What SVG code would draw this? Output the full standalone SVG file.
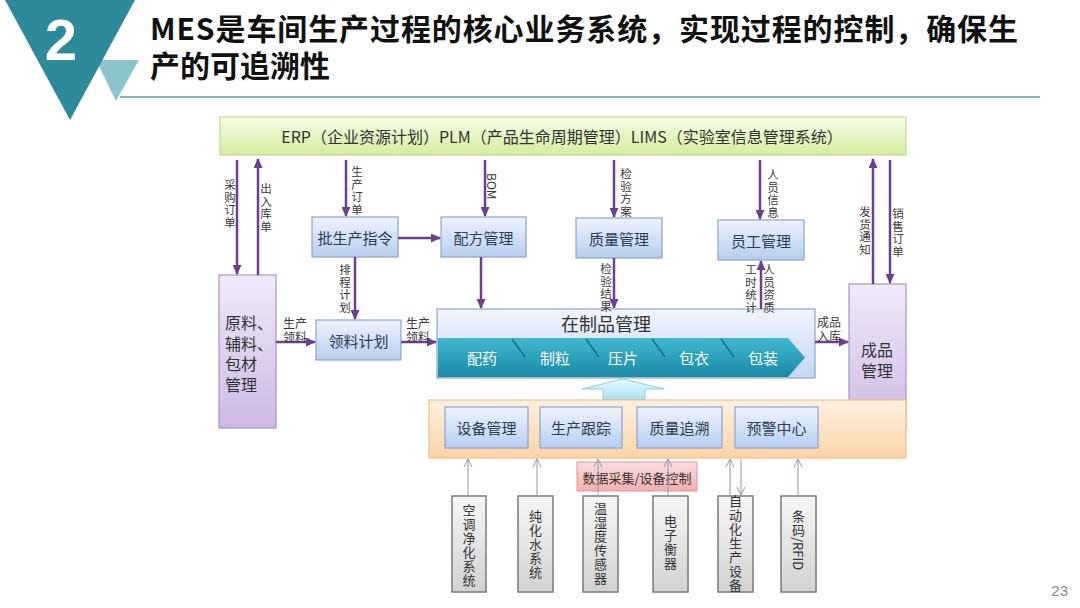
<svg xmlns="http://www.w3.org/2000/svg" width="1080" height="608" viewBox="0 0 1080 608">
<style>
text{font-family:"Noto Sans CJK SC","Noto Sans",sans-serif;fill:#333}
.title{font-size:30px;font-weight:700;fill:#111}
.bx{font-size:15px;fill:#2f3b55;text-anchor:middle;dominant-baseline:central}
.lb{font-size:12px;fill:#3a3a3a;dominant-baseline:central}
.v{font-size:11.5px;fill:#3a3a3a;text-anchor:middle;dominant-baseline:central}
.vg{font-size:13px;fill:#333;text-anchor:middle;dominant-baseline:central}
.big{font-size:16px;fill:#333;dominant-baseline:central}
.pl{stroke:#6e3f8e;stroke-width:2.5;fill:none;marker-end:url(#ah)}
.gl{stroke:#8c9bb2;stroke-width:1;fill:none;marker-end:url(#oh)}
.blue{fill:url(#gBlue);stroke:#8aa4d4;stroke-width:1.2}
.gray{fill:url(#gGray);stroke:#7a7a7a;stroke-width:1.5}
.proc{font-size:15px;fill:#ffffff;text-anchor:middle;dominant-baseline:central}
.sep{stroke:#156f86;stroke-width:1.5}
</style>
<defs>
<linearGradient id="gGreen" x1="0" y1="0" x2="0" y2="1"><stop offset="0" stop-color="#f6fde6"/><stop offset="1" stop-color="#d3eda0"/></linearGradient>
<linearGradient id="gBlue" x1="0" y1="0" x2="0" y2="1"><stop offset="0" stop-color="#eef4fd"/><stop offset="1" stop-color="#b7cdf0"/></linearGradient>
<linearGradient id="gWip" x1="0" y1="0" x2="0" y2="1"><stop offset="0" stop-color="#f0f5fd"/><stop offset="1" stop-color="#c4d6f2"/></linearGradient>
<linearGradient id="gPurple" x1="0" y1="0" x2="0" y2="1"><stop offset="0" stop-color="#f1eaf8"/><stop offset="1" stop-color="#cdb8e4"/></linearGradient>
<linearGradient id="gTeal" x1="0" y1="0" x2="0" y2="1"><stop offset="0" stop-color="#40b8d0"/><stop offset="1" stop-color="#1a8aa6"/></linearGradient>
<linearGradient id="gOrange" x1="0" y1="0" x2="0" y2="1"><stop offset="0" stop-color="#fdf0e0"/><stop offset="1" stop-color="#fbd4a6"/></linearGradient>
<linearGradient id="gPink" x1="0" y1="0" x2="0" y2="1"><stop offset="0" stop-color="#fbdada"/><stop offset="1" stop-color="#f4a6a6"/></linearGradient>
<linearGradient id="gCyan" x1="0" y1="0" x2="0" y2="1"><stop offset="0" stop-color="#eafbfd"/><stop offset="1" stop-color="#a6e0ee"/></linearGradient>
<linearGradient id="gGray" x1="0" y1="0" x2="0" y2="1"><stop offset="0" stop-color="#f6f6f6"/><stop offset="1" stop-color="#d2d2d2"/></linearGradient>
<marker id="ah" markerUnits="userSpaceOnUse" markerWidth="10" markerHeight="9" refX="9" refY="4.5" orient="auto"><path d="M0,0 L10,4.5 L0,9 z" fill="#6e3f8e"/></marker>
<marker id="oh" markerUnits="userSpaceOnUse" markerWidth="10" markerHeight="10" refX="9" refY="5" orient="auto"><path d="M1,1 L9,5 L1,9" fill="none" stroke="#8c9bb2" stroke-width="1"/></marker>
</defs>
<rect width="1080" height="608" fill="#ffffff"/>

<g id="header">
<polygon points="96,60 139,60 116,101" fill="#8ec4cd"/>
<polygon points="5,0 135,0 70,120" fill="#2d8a9b"/>
<text x="61" y="60" text-anchor="middle" style="font-family:'Liberation Sans',Arial,sans-serif;font-size:58px;font-weight:700;fill:#ffffff">2</text>
<text class="title" x="150" y="40" textLength="868" lengthAdjust="spacing">MES是车间生产过程的核心业务系统，实现过程的控制，确保生</text>
<text class="title" x="150" y="77">产的可追溯性</text>
<line x1="120" y1="97" x2="1040" y2="97" stroke="#5a98a4" stroke-width="1.5"/>
</g>

<g id="erp">
<rect x="220" y="117" width="686" height="38" fill="url(#gGreen)" stroke="#b4d48a" stroke-width="1"/>
<text x="562" y="136" text-anchor="middle" dominant-baseline="central" style="font-size:16px;fill:#333">ERP（企业资源计划）PLM（产品生命周期管理）LIMS（实验室信息管理系统）</text>
</g>

<g id="n-raw">
<rect x="219" y="275" width="57" height="153" fill="url(#gPurple)" stroke="#a595bf" stroke-width="1.2"/>
<text class="big" x="225" y="322">原料、</text>
<text class="big" x="225" y="343">辅料、</text>
<text class="big" x="225" y="363">包材</text>
<text class="big" x="225" y="384">管理</text>
</g>

<g id="n-fin">
<rect x="849" y="284" width="57" height="145" fill="url(#gPurple)" stroke="#a595bf" stroke-width="1.2"/>
<text class="big" x="877" y="349" text-anchor="middle">成品</text>
<text class="big" x="877" y="370" text-anchor="middle">管理</text>
</g>

<g id="n-batch">
<rect class="blue" x="312" y="217" width="86" height="40"/>
<text class="bx" x="355" y="237">批生产指令</text>
</g>
<g id="n-recipe">
<rect class="blue" x="441" y="217" width="85" height="40"/>
<text class="bx" x="483.5" y="237">配方管理</text>
</g>
<g id="n-quality">
<rect class="blue" x="576" y="218" width="86" height="40"/>
<text class="bx" x="619" y="238">质量管理</text>
</g>
<g id="n-staff">
<rect class="blue" x="718" y="220" width="86" height="40"/>
<text class="bx" x="761" y="240">员工管理</text>
</g>
<g id="n-pick">
<rect class="blue" x="316" y="320" width="85" height="40"/>
<text class="bx" x="358.5" y="340">领料计划</text>
</g>

<g id="n-wip">
<rect x="437" y="309" width="378" height="69" fill="url(#gWip)" stroke="#8aa4d4" stroke-width="1.2"/>
<text x="606" y="323" text-anchor="middle" dominant-baseline="central" style="font-size:18px;fill:#333">在制品管理</text>
<polygon points="438,338 788,338 805,357.5 788,377 438,377" fill="url(#gTeal)"/>
<line class="sep" x1="512" y1="339" x2="525" y2="357"/>
<line class="sep" x1="586" y1="339" x2="599" y2="357"/>
<line class="sep" x1="652" y1="339" x2="665" y2="357"/>
<line class="sep" x1="721" y1="339" x2="734" y2="357"/>
<text class="proc" x="482" y="357">配药</text>
<text class="proc" x="555" y="357">制粒</text>
<text class="proc" x="623" y="357">压片</text>
<text class="proc" x="694" y="357">包衣</text>
<text class="proc" x="763" y="357">包装</text>
</g>

<g id="n-uparrow">
<polygon points="623,379 664,389 645,389 645,400 603,400 603,389 582,389" fill="url(#gCyan)" stroke="#8fd0de" stroke-width="1"/>
</g>

<g id="n-mes">
<rect x="429" y="400" width="477" height="58" fill="url(#gOrange)" stroke="#f0bf8a" stroke-width="1.2"/>
<rect class="blue" x="445" y="407" width="83" height="41"/>
<text class="bx" x="486.5" y="427.5">设备管理</text>
<rect class="blue" x="540" y="407" width="82" height="41"/>
<text class="bx" x="581" y="427.5">生产跟踪</text>
<rect class="blue" x="637" y="407" width="85" height="41"/>
<text class="bx" x="679.5" y="427.5">质量追溯</text>
<rect class="blue" x="735" y="407" width="83" height="41"/>
<text class="bx" x="776.5" y="427.5">预警中心</text>
</g>

<g id="n-daq">
<rect x="577" y="462" width="120" height="29" fill="url(#gPink)" stroke="#e08a8a" stroke-width="1" opacity="0.9"/>
<text x="637" y="477" text-anchor="middle" dominant-baseline="central" style="font-size:13px;fill:#333">数据采集/设备控制</text>
</g>

<g id="n-ac"><rect class="gray" x="452" y="496" width="34" height="96"/>
<text class="vg"><tspan x="469" y="509">空</tspan><tspan x="469" y="523">调</tspan><tspan x="469" y="537">净</tspan><tspan x="469" y="551">化</tspan><tspan x="469" y="565">系</tspan><tspan x="469" y="579">统</tspan></text></g>
<g id="n-water"><rect class="gray" x="518" y="496" width="35" height="96"/>
<text class="vg"><tspan x="535.5" y="515">纯</tspan><tspan x="535.5" y="529">化</tspan><tspan x="535.5" y="543">水</tspan><tspan x="535.5" y="557">系</tspan><tspan x="535.5" y="571">统</tspan></text></g>
<g id="n-sensor"><rect class="gray" x="583" y="496" width="35" height="96"/>
<text class="vg"><tspan x="600.5" y="507">温</tspan><tspan x="600.5" y="521">湿</tspan><tspan x="600.5" y="535">度</tspan><tspan x="600.5" y="549">传</tspan><tspan x="600.5" y="563">感</tspan><tspan x="600.5" y="577">器</tspan></text></g>
<g id="n-scale"><rect class="gray" x="653" y="496" width="35" height="96"/>
<text class="vg"><tspan x="670.5" y="520">电</tspan><tspan x="670.5" y="534">子</tspan><tspan x="670.5" y="548">衡</tspan><tspan x="670.5" y="562">器</tspan></text></g>
<g id="n-auto"><rect class="gray" x="718" y="496" width="35" height="96"/>
<text class="vg"><tspan x="735.5" y="500">自</tspan><tspan x="735.5" y="514">动</tspan><tspan x="735.5" y="528">化</tspan><tspan x="735.5" y="542">生</tspan><tspan x="735.5" y="556">产</tspan><tspan x="735.5" y="570">设</tspan><tspan x="735.5" y="584">备</tspan></text></g>
<g id="n-rfid"><rect class="gray" x="781" y="496" width="35" height="96"/>
<text class="vg"><tspan x="798.5" y="515">条</tspan><tspan x="798.5" y="529">码</tspan></text>
<text transform="translate(798.5,537) rotate(90)" x="0" y="0" style="font-size:13px;fill:#333;dominant-baseline:central">/RFID</text></g>

<g id="connectors">
<path class="pl" d="M237,160 V274"/>
<path class="pl" d="M258,275 V159"/>
<path class="pl" d="M346,160 V216"/>
<path class="pl" d="M485,160 V216"/>
<path class="pl" d="M614,160 V217"/>
<path class="pl" d="M760,160 V219"/>
<path class="pl" d="M873,284 V159"/>
<path class="pl" d="M890,160 V283"/>
<path class="pl" d="M398,238 H440"/>
<path class="pl" d="M355,257 V319"/>
<path class="pl" d="M481,257 V308"/>
<path class="pl" d="M614,258 V308"/>
<path class="pl" d="M761,309 V261"/>
<path class="pl" d="M276,342 H315"/>
<path class="pl" d="M401,342 H436"/>
<path class="pl" d="M815,342 H848"/>
<path class="gl" d="M468,495 V459"/>
<path class="gl" d="M537,495 V459"/>
<path class="gl" d="M598,495 V459"/>
<path class="gl" d="M668,495 V459"/>
<path class="gl" d="M730,495 V459"/>
<path class="gl" d="M741,459 V495"/>
<path class="gl" d="M798,495 V459"/>
<text class="v"><tspan x="230" y="184">采</tspan><tspan x="230" y="196.5">购</tspan><tspan x="230" y="209">订</tspan><tspan x="230" y="221.5">单</tspan></text>
<text class="v"><tspan x="266" y="188">出</tspan><tspan x="266" y="200.5">入</tspan><tspan x="266" y="213">库</tspan><tspan x="266" y="225.5">单</tspan></text>
<text class="v"><tspan x="357" y="171">生</tspan><tspan x="357" y="183.5">产</tspan><tspan x="357" y="196">订</tspan><tspan x="357" y="208.5">单</tspan></text>
<text transform="translate(492,173) rotate(90)" x="0" y="0" style="font-size:12px;fill:#3a3a3a;dominant-baseline:central">BOM</text>
<text class="v"><tspan x="626" y="173">检</tspan><tspan x="626" y="185.5">验</tspan><tspan x="626" y="198">方</tspan><tspan x="626" y="210.5">案</tspan></text>
<text class="v"><tspan x="773" y="174">人</tspan><tspan x="773" y="186.5">员</tspan><tspan x="773" y="199">信</tspan><tspan x="773" y="211.5">息</tspan></text>
<text class="v"><tspan x="865" y="211">发</tspan><tspan x="865" y="223.5">货</tspan><tspan x="865" y="236">通</tspan><tspan x="865" y="248.5">知</tspan></text>
<text class="v"><tspan x="898" y="213">销</tspan><tspan x="898" y="225.5">售</tspan><tspan x="898" y="238">订</tspan><tspan x="898" y="250.5">单</tspan></text>
<text class="v"><tspan x="345" y="269">排</tspan><tspan x="345" y="281.5">程</tspan><tspan x="345" y="294">计</tspan><tspan x="345" y="306.5">划</tspan></text>
<text class="v"><tspan x="606" y="268">检</tspan><tspan x="606" y="280.5">验</tspan><tspan x="606" y="293">结</tspan><tspan x="606" y="305.5">果</tspan></text>
<text class="v"><tspan x="751" y="269">工</tspan><tspan x="751" y="281.5">时</tspan><tspan x="751" y="294">统</tspan><tspan x="751" y="306.5">计</tspan></text>
<text class="v"><tspan x="769" y="269">人</tspan><tspan x="769" y="281.5">员</tspan><tspan x="769" y="294">资</tspan><tspan x="769" y="306.5">质</tspan></text>
<text class="lb" x="283" y="322">生产</text>
<text class="lb" x="283" y="336">领料</text>
<text class="lb" x="406" y="322">生产</text>
<text class="lb" x="406" y="336">领料</text>
<text class="lb" x="817" y="321">成品</text>
<text class="lb" x="817" y="335">入库</text>
</g>

<text x="1068" y="590" text-anchor="end" dominant-baseline="central" style="font-family:'Liberation Sans',Arial,sans-serif;font-size:15px;fill:#8a8a8a">23</text>
</svg>
